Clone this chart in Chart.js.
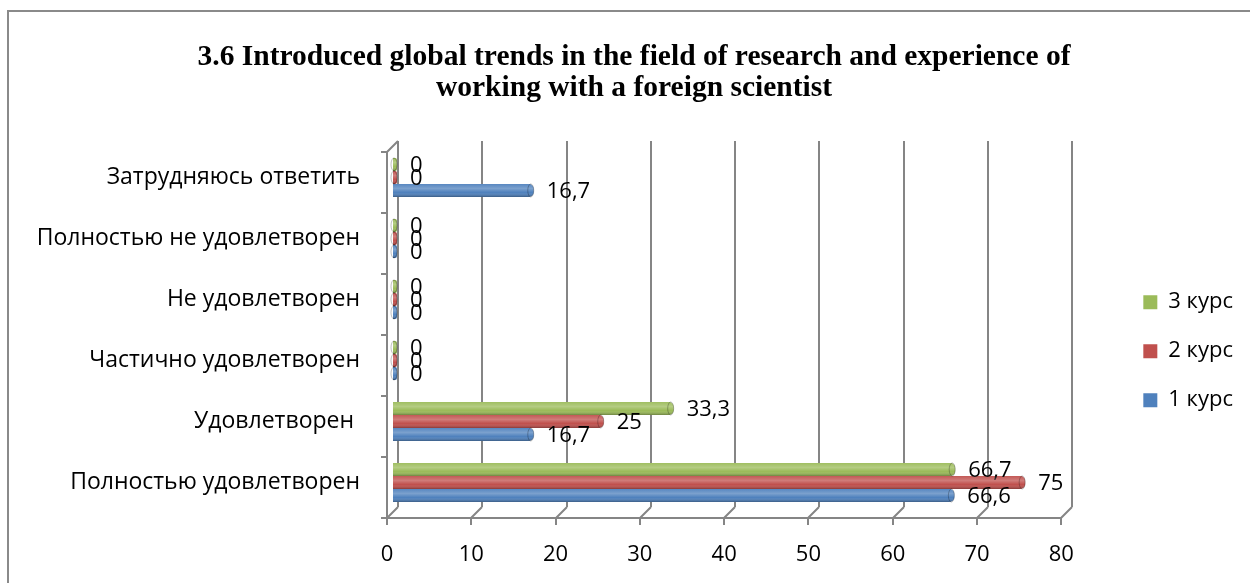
<!DOCTYPE html>
<html>
<head>
<meta charset="utf-8">
<script src="https://cdn.jsdelivr.net/npm/chart.js@4/dist/chart.umd.min.js"></script>
<style>
    html, body { margin: 0; padding: 0; background: #fff; overflow: hidden; }
    .frame { position: absolute; left: 7px; top: 10px; width: 1300px; height: 700px; border: 2px solid #8a8a8a; }
    #wrap { position: absolute; left: 0; top: 0; width: 1250px; height: 583px; }
</style>
</head>
<body>
<div class="frame"></div>
<div id="wrap"><canvas id="barChart" width="1250" height="583"></canvas></div>
<script>
const categories = ['Затрудняюсь ответить', 'Полностью не удовлетворен', 'Не удовлетворен', 'Частично удовлетворен', 'Удовлетворен ', 'Полностью удовлетворен'];
const seriesNames = ['3 курс', '2 курс', '1 курс'];
const course3 = [0, 0, 0, 0, 33.3, 66.7];
const course2 = [0, 0, 0, 0, 25, 75];
const course1 = [16.7, 0, 0, 0, 16.7, 66.6];
const colors = ['#9bbb59', '#c0504d', '#4f81bd'];
const xMin = 0, xMax = 80, xStep = 10;

const labelFont = { family: 'Open Sans', size: 22 };
const catFont = { family: 'Open Sans', size: 23 };
const gridColor = '#858585';

// 3D walls and floor, drawn from the x scale
const wallsPlugin = {
    id: 'walls',
    beforeDatasetsDraw(chart) {
        const ctx = chart.ctx;
        const ca = chart.chartArea;
        const x = chart.scales.x;
        const dx = 5, dy = 6, fx = -6, fy = 5;
        ctx.save();
        ctx.strokeStyle = gridColor;
        ctx.lineWidth = 2;
        ctx.beginPath();
        for (let v = xMin; v <= xMax; v += xStep) {
            const px = Math.round(x.getPixelForValue(v));
            // back gridline
            ctx.moveTo(px + dx, ca.top - dy);
            ctx.lineTo(px + dx, ca.bottom - dy);
            // floor diagonal
            ctx.moveTo(px + fx, ca.bottom + fy);
            ctx.lineTo(px + dx, ca.bottom - dy);
            // tick below
            ctx.moveTo(px + fx, ca.bottom + fy);
            ctx.lineTo(px + fx, ca.bottom + fy + 7);
        }
        const x0 = Math.round(x.getPixelForValue(xMin));
        const x1 = Math.round(x.getPixelForValue(xMax));
        // front floor edge
        ctx.moveTo(x0 + fx - 6, ca.bottom + fy);
        ctx.lineTo(x1 + fx, ca.bottom + fy);
        // left wall front edge
        ctx.moveTo(x0 + fx, ca.top + fy);
        ctx.lineTo(x0 + fx, ca.bottom + fy);
        ctx.moveTo(x0 + fx, ca.top + fy);
        ctx.lineTo(x0 + dx, ca.top - dy);
        // category ticks
        const band = (ca.bottom - ca.top) / categories.length;
        for (let k = 0; k <= categories.length; k++) {
            const y = Math.round(ca.top + k * band + fy);
            ctx.moveTo(x0 + fx - 6, y);
            ctx.lineTo(x0 + fx, y);
        }
        ctx.stroke();
        ctx.restore();
    }
};

// cylinder shading and value labels
const barLabelsPlugin = {
    id: 'barLabels',
    afterDatasetsDraw(chart) {
        const ctx = chart.ctx;
        ctx.save();
        chart.data.datasets.forEach((ds, i) => {
            const meta = chart.getDatasetMeta(i);
            meta.data.forEach((el, j) => {
                const h = el.height;
                const left = Math.min(el.base, el.x);
                const w = Math.abs(el.x - el.base);
                const top = el.y - h / 2;
                const g = ctx.createLinearGradient(0, top, 0, top + h);
                g.addColorStop(0, 'rgba(255,255,255,0.05)');
                g.addColorStop(0.35, 'rgba(255,255,255,0.25)');
                g.addColorStop(0.65, 'rgba(255,255,255,0.0)');
                g.addColorStop(1, 'rgba(0,0,0,0.30)');
                ctx.fillStyle = g;
                ctx.beginPath();
                ctx.roundRect(left, top, w, h, [0, 5, 5, 0]);
                ctx.fill();
                ctx.strokeStyle = 'rgba(0,0,0,0.25)';
                ctx.lineWidth = 1;
                ctx.beginPath();
                ctx.ellipse(el.x - 3, el.y, 3, h / 2, 0, 0, Math.PI * 2);
                ctx.stroke();

                const val = ds.data[j];
                ctx.fillStyle = '#000';
                ctx.font = labelFont.size + 'px "' + labelFont.family + '"';
                ctx.textAlign = 'left';
                ctx.textBaseline = 'middle';
                ctx.fillText(String(val).replace('.', ','), el.x + 13, el.y + 1);
            });
        });
        ctx.restore();
    }
};

const ctx = document.getElementById('barChart').getContext('2d');
const chart = new Chart(ctx, {
    type: 'bar',
    data: {
        labels: categories,
        datasets: [
            { label: seriesNames[0], data: course3, backgroundColor: colors[0] },
            { label: seriesNames[1], data: course2, backgroundColor: colors[1] },
            { label: seriesNames[2], data: course1, backgroundColor: colors[2] }
        ]
    },
    options: {
        indexAxis: 'y',
        responsive: false,
        animation: false,
        devicePixelRatio: 1,
        layout: { padding: { left: 18, right: 0, top: 0, bottom: 0 } },
        datasets: {
            bar: {
                categoryPercentage: 0.64,
                barPercentage: 1,
                minBarLength: 4,
                borderRadius: 5
            }
        },
        scales: {
            x: {
                min: xMin,
                max: xMax,
                grid: { display: false, drawTicks: false },
                border: { display: false },
                ticks: { stepSize: xStep, font: labelFont, color: '#000', padding: 29, labelOffset: -6 },
                afterFit(s) { s.height = 70; }
            },
            y: {
                grid: { display: false, drawTicks: false },
                border: { display: false },
                ticks: { font: catFont, color: '#000', padding: 33 },
                afterFit(s) { s.width = 375; }
            },
            // empty space between plot and legend
            pad: {
                type: 'linear',
                position: 'right',
                weight: 0,
                grid: { display: false, drawTicks: false },
                border: { display: false },
                ticks: { display: false },
                afterFit(s) { s.width = 49; }
            },
            // empty space right of legend
            pad2: {
                type: 'linear',
                position: 'right',
                weight: 2000,
                grid: { display: false, drawTicks: false },
                border: { display: false },
                ticks: { display: false },
                afterFit(s) { s.width = 7; }
            }
        },
        plugins: {
            title: {
                display: true,
                text: ['3.6 Introduced global trends in the field of research and experience of', 'working with a foreign scientist'],
                font: { family: 'Liberation Serif', size: 29.5, weight: 'bold', lineHeight: 1.05 },
                color: '#000',
                padding: { top: 41.5, bottom: 43.5 }
            },
            legend: {
                position: 'right',
                fullSize: false,
                title: { display: true, text: ' ', font: { size: 22, lineHeight: 1.2 }, padding: 8 },
                labels: {
                    font: labelFont,
                    color: '#000',
                    boxWidth: 14,
                    boxHeight: 14,
                    padding: 27
                }
            },
            tooltip: { enabled: false }
        }
    },
    plugins: [wallsPlugin, barLabelsPlugin]
});
</script>
</body>
</html>
